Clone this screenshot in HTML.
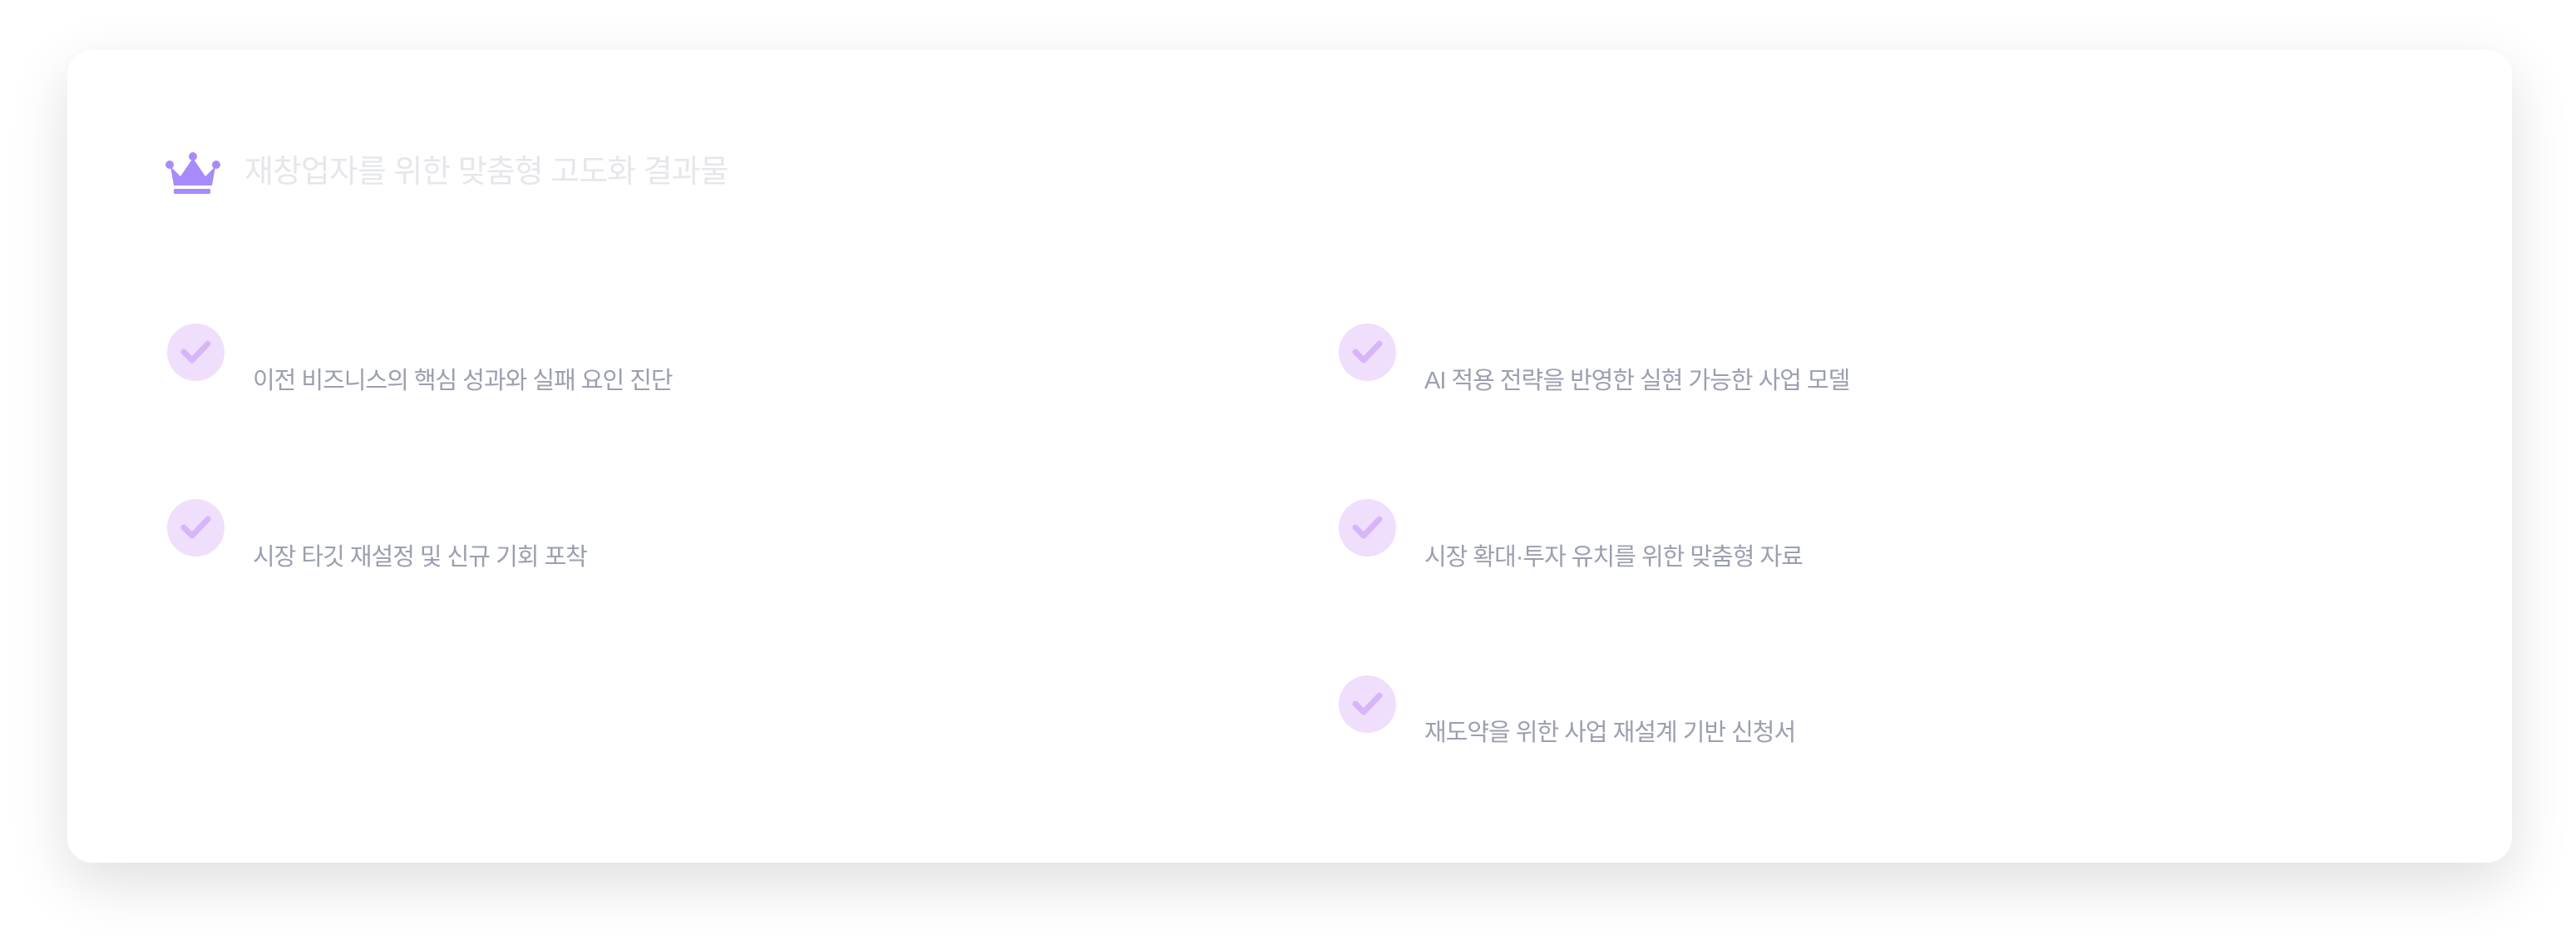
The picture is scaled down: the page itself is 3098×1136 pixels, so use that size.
<!DOCTYPE html>
<html><head><meta charset="utf-8"><style>
html,body{margin:0;padding:0;background:#fff;width:3098px;height:1136px;overflow:hidden;font-family:"Liberation Sans","Noto Sans CJK KR",sans-serif}
.card{position:absolute;left:81px;top:60px;width:2940px;height:977px;background:#fff;border-radius:30px;box-shadow:0 24px 70px rgba(0,0,0,0.13)}
.title{position:absolute;left:294px;top:182px;font-size:38px;letter-spacing:-1px;color:#e6e7eb;line-height:50px;white-space:nowrap}
.crown{position:absolute;left:199px;top:182px}
.chk{position:absolute;width:69px;height:69px;border-radius:50%;background:#efdefc}
.chk svg{position:absolute;left:14px;top:14px}
.t{position:absolute;font-size:29px;letter-spacing:-1px;color:#9a9fb0;line-height:36px;white-space:nowrap}
</style></head><body>
<div class="card"></div>
<svg class="crown" width="66" height="54" viewBox="0 0 66 54">
<circle cx="33" cy="6" r="5" fill="#a78bfa"/><circle cx="5" cy="16" r="5" fill="#a78bfa"/><circle cx="61" cy="16" r="5" fill="#a78bfa"/>
<path d="M6 18 L18 30 L33 8 L48 30 L60 18 L56 41 L10 41 Z" fill="#a78bfa"/>
<rect x="10" y="45" width="44" height="6" rx="1" fill="#a78bfa"/></svg>
<div class="title">재창업자를 위한 맞춤형 고도화 결과물</div>

<div class="chk" style="left:201px;top:389px"><svg width="41" height="41" viewBox="0 0 41 41"><path d="M6 20 L16 30 L35 10" stroke="#d6b6f8" stroke-width="7" fill="none" stroke-linecap="round" stroke-linejoin="round"/></svg></div>
<div class="t" style="left:304px;top:440px">이전 비즈니스의 핵심 성과와 실패 요인 진단</div>

<div class="chk" style="left:201px;top:600px"><svg width="41" height="41" viewBox="0 0 41 41"><path d="M6 20 L16 30 L35 10" stroke="#d6b6f8" stroke-width="7" fill="none" stroke-linecap="round" stroke-linejoin="round"/></svg></div>
<div class="t" style="left:304px;top:652px">시장 타깃 재설정 및 신규 기회 포착</div>

<div class="chk" style="left:1610px;top:389px"><svg width="41" height="41" viewBox="0 0 41 41"><path d="M6 20 L16 30 L35 10" stroke="#d6b6f8" stroke-width="7" fill="none" stroke-linecap="round" stroke-linejoin="round"/></svg></div>
<div class="t" style="left:1713px;top:440px">AI 적용 전략을 반영한 실현 가능한 사업 모델</div>

<div class="chk" style="left:1610px;top:600px"><svg width="41" height="41" viewBox="0 0 41 41"><path d="M6 20 L16 30 L35 10" stroke="#d6b6f8" stroke-width="7" fill="none" stroke-linecap="round" stroke-linejoin="round"/></svg></div>
<div class="t" style="left:1713px;top:652px">시장 확대·투자 유치를 위한 맞춤형 자료</div>

<div class="chk" style="left:1610px;top:812px"><svg width="41" height="41" viewBox="0 0 41 41"><path d="M6 20 L16 30 L35 10" stroke="#d6b6f8" stroke-width="7" fill="none" stroke-linecap="round" stroke-linejoin="round"/></svg></div>
<div class="t" style="left:1713px;top:863px">재도약을 위한 사업 재설계 기반 신청서</div>
</body></html>
